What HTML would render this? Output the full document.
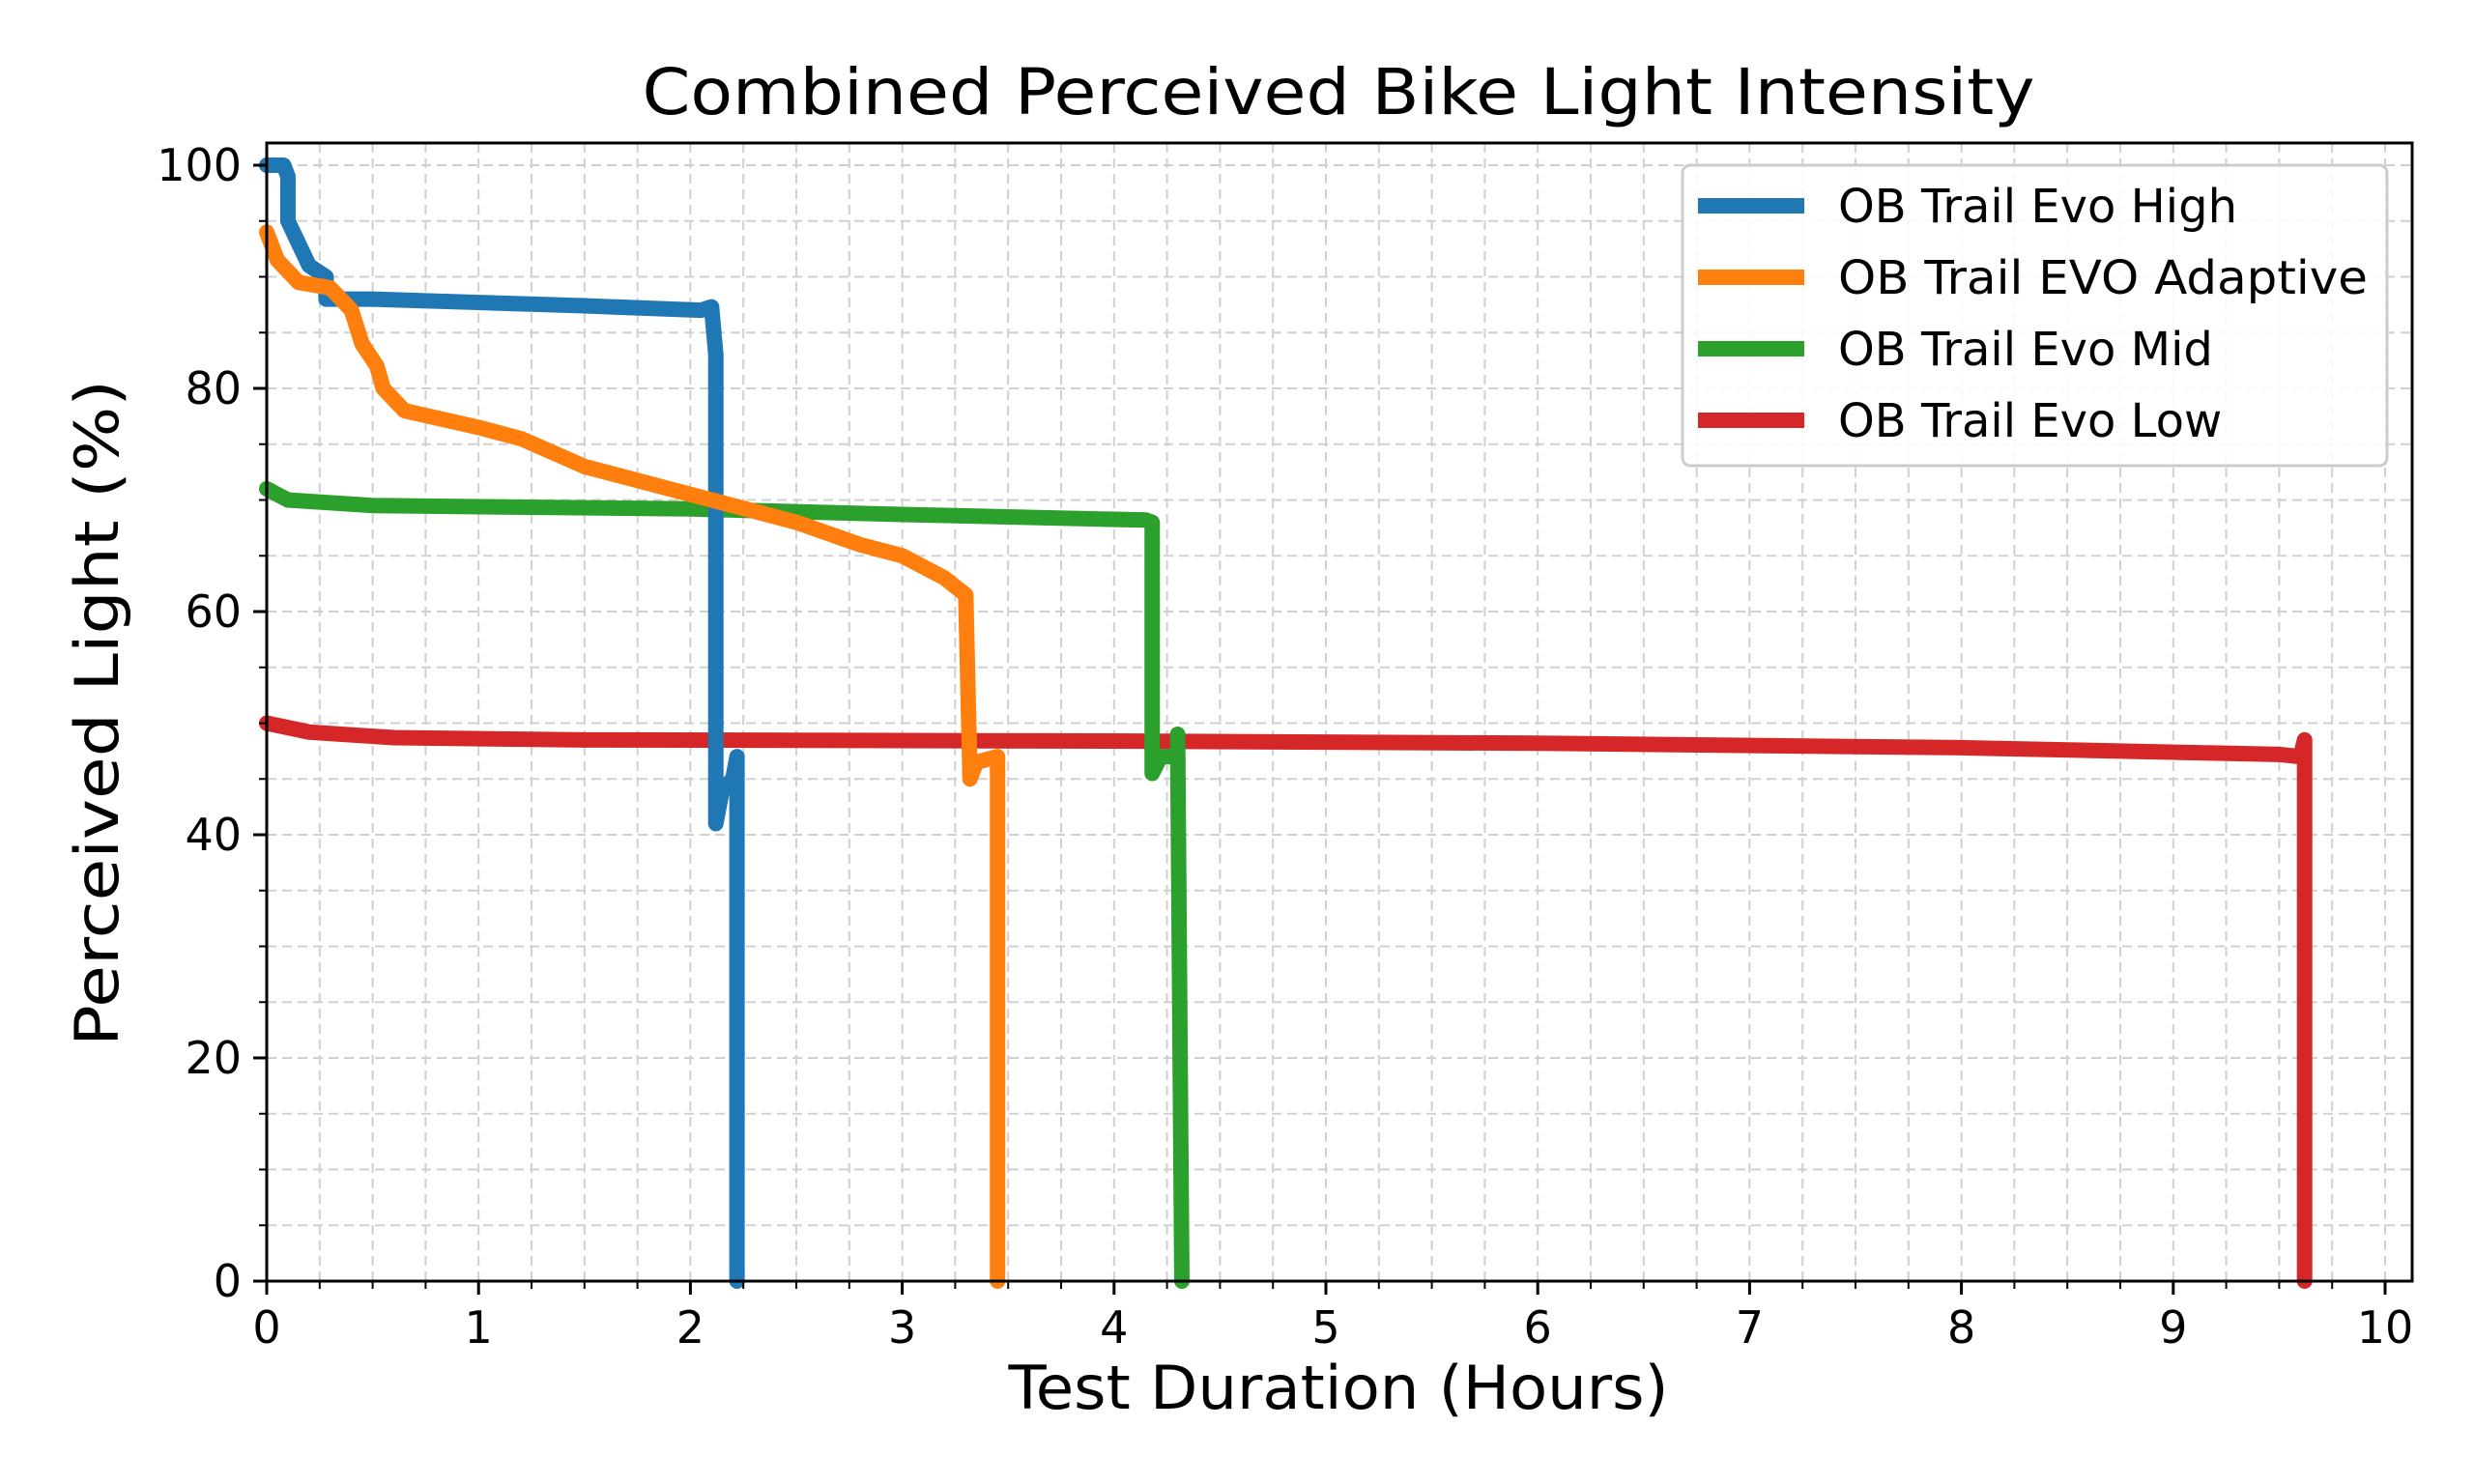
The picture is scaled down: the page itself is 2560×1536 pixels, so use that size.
<!DOCTYPE html>
<html><head><meta charset="utf-8"><style>
html,body{margin:0;padding:0;background:#fff;}
svg{display:block;}
text{font-family:"DejaVu Sans","Liberation Sans",sans-serif;fill:#000;}
</style></head><body>
<svg width="2560" height="1536" viewBox="0 0 2560 1536" xmlns="http://www.w3.org/2000/svg">
<rect width="2560" height="1536" fill="#fff"/>
<g id="grid" stroke="#d0d0d0" stroke-width="2" stroke-dasharray="10,6" fill="none">
<path d="
M330.8,148V1326 M385.6,148V1326 M440.4,148V1326 M495.2,148V1326 M550,148V1326 M604.8,148V1326 M659.6,148V1326 M714.4,148V1326 M769.2,148V1326 M824,148V1326 M878.8,148V1326 M933.6,148V1326 M988.4,148V1326 M1043.2,148V1326 M1098,148V1326 M1152.8,148V1326 M1207.6,148V1326 M1262.4,148V1326 M1317.2,148V1326 M1372,148V1326 M1426.8,148V1326 M1481.6,148V1326 M1536.4,148V1326 M1591.2,148V1326 M1646,148V1326 M1700.8,148V1326 M1755.6,148V1326 M1810.4,148V1326 M1865.2,148V1326 M1920,148V1326 M1974.8,148V1326 M2029.6,148V1326 M2084.4,148V1326 M2139.2,148V1326 M2194,148V1326 M2248.8,148V1326 M2303.6,148V1326 M2358.4,148V1326 M2413.2,148V1326 M2468,148V1326
M276,1268.3H2496 M276,1210.5H2496 M276,1152.8H2496 M276,1095H2496 M276,1037.3H2496 M276,979.5H2496 M276,921.8H2496 M276,864H2496 M276,806.3H2496 M276,748.5H2496 M276,690.8H2496 M276,633H2496 M276,575.3H2496 M276,517.5H2496 M276,459.8H2496 M276,402H2496 M276,344.3H2496 M276,286.5H2496 M276,228.8H2496 M276,171H2496"/>
</g>
<g fill="none" stroke-linejoin="round" stroke-linecap="round" transform="translate(276,1326) scale(219.2,-11.55)">
<polyline vector-effect="non-scaling-stroke" stroke="#d62728" stroke-width="16" points="0,50 0.2,49.2 0.6,48.7 1.5,48.5 4,48.4 6,48.2 8,47.8 9.5,47.2 9.6,47 9.62,48.5 9.62,0"/>
<polyline vector-effect="non-scaling-stroke" stroke="#2ca02c" stroke-width="16" points="0,71 0.1,70 0.5,69.5 2,69.2 3,68.7 4.15,68.2 4.18,68 4.18,45.5 4.22,47 4.3,47 4.3,49 4.32,0"/>
<polyline vector-effect="non-scaling-stroke" stroke="#1f77b4" stroke-width="16" points="0,100 0.08,100 0.1,99 0.1,95 0.15,93 0.2,91 0.28,90 0.28,88 0.5,88 1,87.7 1.5,87.4 2.05,87 2.1,87.3 2.12,83 2.12,41 2.15,44 2.2,45 2.22,47 2.22,0"/>
<polyline vector-effect="non-scaling-stroke" stroke="#ff7f0e" stroke-width="16" points="0,94 0.05,91.5 0.15,89.5 0.3,89 0.4,87 0.45,84 0.52,82 0.55,80 0.65,78 1,76.5 1.2,75.5 1.5,73 2,70.5 2.5,68 2.8,66 3,65 3.2,63 3.3,61.5 3.32,45 3.35,46.5 3.45,47 3.45,0"/>
</g>
<rect x="276" y="148" width="2220" height="1178" fill="none" stroke="#000" stroke-width="3"/>
<g stroke="#000" stroke-width="3">
<path d="M276,1326v14 M495.2,1326v14 M714.4,1326v14 M933.6,1326v14 M1152.8,1326v14 M1372,1326v14 M1591.2,1326v14 M1810.4,1326v14 M2029.6,1326v14 M2248.8,1326v14 M2468,1326v14"/>
<path d="M276,1326h-14 M276,1095h-14 M276,864h-14 M276,633h-14 M276,402h-14 M276,171h-14"/>
</g>
<g stroke="#000" stroke-width="2">
<path d="M330.8,1326v8 M385.6,1326v8 M440.4,1326v8 M550,1326v8 M604.8,1326v8 M659.6,1326v8 M769.2,1326v8 M824,1326v8 M878.8,1326v8 M988.4,1326v8 M1043.2,1326v8 M1098,1326v8 M1207.6,1326v8 M1262.4,1326v8 M1317.2,1326v8 M1426.8,1326v8 M1481.6,1326v8 M1536.4,1326v8 M1646,1326v8 M1700.8,1326v8 M1755.6,1326v8 M1865.2,1326v8 M1920,1326v8 M1974.8,1326v8 M2084.4,1326v8 M2139.2,1326v8 M2194,1326v8 M2303.6,1326v8 M2358.4,1326v8 M2413.2,1326v8"/>
<path d="M276,1268.3h-8 M276,1210.5h-8 M276,1152.8h-8 M276,1037.3h-8 M276,979.5h-8 M276,921.8h-8 M276,806.3h-8 M276,748.5h-8 M276,690.8h-8 M276,575.3h-8 M276,517.5h-8 M276,459.8h-8 M276,344.3h-8 M276,286.5h-8 M276,228.8h-8"/>
</g>
<g font-size="46" text-anchor="middle">
<text x="276" y="1390">0</text><text x="495.2" y="1390">1</text><text x="714.4" y="1390">2</text><text x="933.6" y="1390">3</text><text x="1152.8" y="1390">4</text><text x="1372" y="1390">5</text><text x="1591.2" y="1390">6</text><text x="1810.4" y="1390">7</text><text x="2029.6" y="1390">8</text><text x="2248.8" y="1390">9</text><text x="2468" y="1390">10</text>
</g>
<g font-size="46" text-anchor="end">
<text x="250" y="1342">0</text><text x="250" y="1111">20</text><text x="250" y="880">40</text><text x="250" y="649">60</text><text x="250" y="418">80</text><text x="250" y="187">100</text>
</g>
<text x="1385" y="118" font-size="66" text-anchor="middle" textLength="1441" lengthAdjust="spacingAndGlyphs">Combined Perceived Bike Light Intensity</text>
<text x="1385" y="1458" font-size="62" text-anchor="middle" textLength="683" lengthAdjust="spacingAndGlyphs">Test Duration (Hours)</text>
<text transform="translate(122,738) rotate(-90)" font-size="62" text-anchor="middle" textLength="690" lengthAdjust="spacingAndGlyphs">Perceived Light (%)</text>
<rect x="1741" y="171" width="729" height="311" rx="8" fill="#fff" fill-opacity="0.85" stroke="#cccccc" stroke-width="3"/>
<g stroke-width="16">
<line x1="1757" y1="213" x2="1867" y2="213" stroke="#1f77b4"/>
<line x1="1757" y1="287" x2="1867" y2="287" stroke="#ff7f0e"/>
<line x1="1757" y1="361" x2="1867" y2="361" stroke="#2ca02c"/>
<line x1="1757" y1="435" x2="1867" y2="435" stroke="#d62728"/>
</g>
<g font-size="48">
<text x="1902" y="230">OB Trail Evo High</text>
<text x="1902" y="304" textLength="548" lengthAdjust="spacingAndGlyphs">OB Trail EVO Adaptive</text>
<text x="1902" y="378">OB Trail Evo Mid</text>
<text x="1902" y="452">OB Trail Evo Low</text>
</g>
</svg>
</body></html>
